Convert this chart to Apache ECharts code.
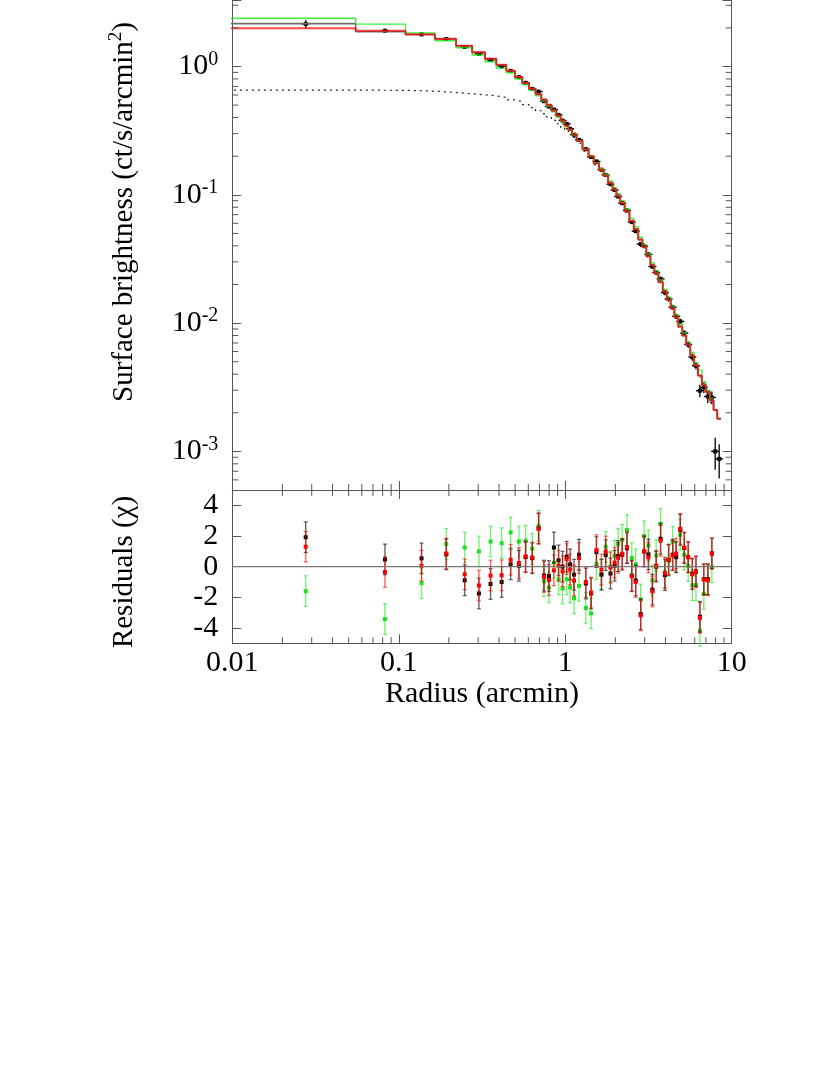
<!DOCTYPE html>
<html>
<head>
<meta charset="utf-8">
<script src="https://cdn.jsdelivr.net/npm/echarts@6/dist/echarts.min.js"></script>
<style>
  html, body { margin: 0; padding: 0; background: #fff; }
  #chart { width: 830px; height: 1075px; }
</style>
</head>
<body>
<div id="chart"></div>
<script>
// bin centres (arcmin)
const radius = [
  0.0276, 0.0826, 0.137, 0.193, 0.249, 0.303, 0.356, 0.415, 0.470, 0.527,
  0.578, 0.634, 0.692, 0.745, 0.798, 0.855, 0.912, 0.964, 1.02, 1.07,
  1.13, 1.21, 1.33, 1.43, 1.54, 1.65, 1.75, 1.87, 1.98, 2.08,
  2.20, 2.35, 2.51, 2.65, 2.84, 2.98, 3.16, 3.34, 3.52, 3.74,
  3.97, 4.18, 4.42, 4.64, 4.91, 5.19, 5.48, 5.80, 6.10, 6.44,
  6.80, 7.19, 7.60, 7.96, 8.41
];
// surface brightness data (ct/s/arcmin^2) and 1-sigma errors
const sbData = [
  2.15, 1.90, 1.78, 1.64, 1.42, 1.256, 1.127, 1.007, 0.926, 0.826,
  0.746, 0.670, 0.638, 0.537, 0.488, 0.462, 0.420, 0.379, 0.357, 0.327,
  0.294, 0.268, 0.227, 0.197, 0.182, 0.157, 0.143, 0.121, 0.109, 0.097,
  0.086, 0.0755, 0.0613, 0.0521, 0.0413, 0.0398, 0.0343, 0.0276, 0.0248, 0.0221,
  0.0173, 0.0154, 0.0133, 0.0113, 0.0103, 0.00835, 0.00681, 0.00543, 0.00465, 0.00297,
  0.00315, 0.00268, 0.00263, 0.00100, 0.000875
];
const sbErr = [
  0.16, 0.07, 0.05, 0.045, 0.04, 0.035, 0.03, 0.028, 0.025, 0.022,
  0.02, 0.018, 0.017, 0.015, 0.014, 0.013, 0.012, 0.011, 0.010, 0.0095,
  0.009, 0.008, 0.007, 0.006, 0.0055, 0.005, 0.0045, 0.004, 0.0036, 0.0032,
  0.0029, 0.0026, 0.0022, 0.0019, 0.0016, 0.0015, 0.0013, 0.0011, 0.0010, 0.0009,
  0.0008, 0.0007, 0.0006, 0.00055, 0.0005, 0.00045, 0.0004, 0.00035, 0.0003, 0.00033,
  0.0003, 0.0003, 0.0003, 0.00028, 0.00026
];
// model histograms
const modelRed = [
  1.99, 1.90, 1.78, 1.64, 1.45, 1.29, 1.15, 1.03, 0.926, 0.83,
  0.745, 0.672, 0.607, 0.552, 0.503, 0.455, 0.414, 0.379, 0.345, 0.322,
  0.296, 0.264, 0.226, 0.200, 0.176, 0.157, 0.141, 0.124, 0.110, 0.0985,
  0.0866, 0.0745, 0.0628, 0.0540, 0.0448, 0.0392, 0.0332, 0.0283, 0.0245, 0.0208,
  0.0176, 0.0152, 0.0130, 0.0111, 0.0094, 0.0080, 0.0068, 0.0056, 0.0047, 0.0039,
  0.0033, 0.0029, 0.0025, 0.0021, 0.0018
];
const modelGrey = [
  2.16, 1.87, 1.78, 1.65, 1.45, 1.29, 1.15, 1.03, 0.926, 0.83,
  0.745, 0.672, 0.607, 0.552, 0.503, 0.455, 0.414, 0.379, 0.345, 0.322,
  0.296, 0.264, 0.226, 0.200, 0.176, 0.157, 0.141, 0.124, 0.110, 0.0985,
  0.0866, 0.0745, 0.0628, 0.0540, 0.0448, 0.0392, 0.0332, 0.0283, 0.0245, 0.0208,
  0.0176, 0.0152, 0.0130, 0.0111, 0.0094, 0.0080, 0.0068, 0.0056, 0.0047, 0.0039,
  0.0033, 0.0029, 0.0025, 0.0021, 0.0018
];
const modelGreen = [
  2.38, 2.14, 1.83, 1.59, 1.40, 1.23, 1.09, 0.97, 0.893, 0.80,
  0.725, 0.652, 0.590, 0.537, 0.490, 0.443, 0.404, 0.371, 0.340, 0.318,
  0.293, 0.263, 0.226, 0.201, 0.178, 0.160, 0.145, 0.128, 0.114, 0.102,
  0.090, 0.0776, 0.0655, 0.0563, 0.0467, 0.0409, 0.0346, 0.0295, 0.0256, 0.0217,
  0.0184, 0.0159, 0.0136, 0.0116, 0.0098, 0.0084, 0.0071, 0.0059, 0.0049, 0.0043,
  0.0035, 0.0030, 0.0026, null, null
];
// extended component (dotted)
const modelComp = [
  0.655, 0.652, 0.643, 0.627, 0.613, 0.602, 0.591, 0.574, 0.550, 0.533,
  0.505, 0.478, 0.452, 0.430, 0.405, 0.380, 0.358, 0.336, 0.318, 0.300,
  0.280, 0.253, 0.219, 0.195, 0.172, 0.154, 0.139, 0.122, 0.109, 0.0975,
  0.086, 0.074, 0.0625, 0.0537, 0.0446, 0.039, 0.033, 0.0282, 0.0244, 0.0207,
  0.0175, 0.0151, 0.0129, 0.0110, 0.0093, 0.0079, 0.0067, 0.0055, 0.0046, 0.0038,
  0.0032, 0.0028, 0.0024, 0.0021, 0.0018
];
// residuals (chi) for the three data sets, first 53 bins
const resBlack = [
  1.92, 0.47, 0.54, 0.80, -0.89, -1.75, -1.13, -1.00, 0.15, 0.06,
  0.62, 0.55, 2.50, -0.58, -0.61, 1.25, 0.41, 0.00, 0.65, 0.15,
  -0.52, 0.78, -1.10, -1.75, 0.95, -0.52, 0.75, -0.45, 0.06, 0.69,
  0.78, 1.20, -0.60, -0.90, -3.10, 0.99, 0.80, -1.50, 0.00, 1.82,
  -0.55, 0.45, 0.78, 0.62, 2.40, 1.22, 0.62, -0.45, -0.32, -3.27,
  -0.82, -0.82, 0.86
];
const resRed = [
  1.30, -0.35, 0.06, 0.86, -0.50, -1.23, -0.58, -0.56, 0.45, 0.23,
  0.67, 0.60, 2.47, -0.67, -0.87, -0.24, 0.06, -0.30, 0.49, -0.18,
  -0.90, 0.56, -1.00, -1.69, 1.08, -0.19, 0.99, -0.06, 0.26, 0.58,
  0.84, 1.27, -0.63, -1.00, -3.18, 0.99, 0.60, -1.62, 0.06, 1.69,
  -0.42, 0.45, 0.73, 0.86, 2.47, 1.25, 0.62, -0.50, -0.32, -3.34,
  -0.84, -0.89, 0.86
];
const resGreen = [
  -1.60, -3.42, -1.08, 1.49, 1.25, 0.99, 1.64, 1.53, 2.23, 1.64,
  1.69, 1.17, 2.66, -0.95, -1.36, 0.26, -0.84, -1.43, -0.82, -1.36,
  -2.06, -1.26, -2.69, -3.05, 0.17, -0.50, 1.30, 0.00, 0.71, 1.47,
  1.75, 2.38, 0.56, 0.15, -2.14, 1.99, 1.38, -0.89, 0.73, 2.79,
  -0.37, 0.39, 1.62, 0.62, 2.08, 0.78, 0.04, -1.21, -1.21, -4.18,
  -1.78, -0.82, -0.04
];
const xRange = [0.01, 10];
const yRange = [5e-4, 3.3];
const resRange = [-5, 5];

const FONT = '"Liberation Serif", "Times New Roman", serif';
const AXIS_COLOR = '#555';

// bin edges from the centres
const edges = [0.001];
for (let i = 1; i < radius.length; i++) edges.push((radius[i - 1] + radius[i]) / 2);
edges.push(2 * radius[radius.length - 1] - edges[edges.length - 1]);

function steps(vals) {
  const pts = [];
  vals.forEach((v, i) => {
    if (v == null) return;
    pts.push([edges[i], v], [edges[i + 1], v]);
  });
  return pts;
}

// minor tick values
const minorX = [];
for (let e = -2; e <= 0; e++) for (let m = 2; m <= 9; m++) minorX.push(m * Math.pow(10, e));
const minorY = [];
for (let e = -4; e <= 0; e++) {
  for (let m = 2; m <= 9; m++) {
    const v = m * Math.pow(10, e);
    if (v > yRange[0] && v < yRange[1]) minorY.push(v);
  }
}

function line(x1, y1, x2, y2, color, w) {
  return { type: 'line', shape: { x1, y1, x2, y2 }, style: { stroke: color, lineWidth: w } };
}

function errorItem(color, barColor, cap, cross) {
  return function (params, api) {
    const c = api.coord([api.value(0), api.value(1)]);
    const lo = api.coord([api.value(0), api.value(2)]);
    const hi = api.coord([api.value(0), api.value(3)]);
    const children = [line(c[0], lo[1], c[0], hi[1], barColor, 1.4)];
    if (cap) {
      children.push(line(c[0] - cap, lo[1], c[0] + cap, lo[1], barColor, 1.2));
      children.push(line(c[0] - cap, hi[1], c[0] + cap, hi[1], barColor, 1.2));
    }
    if (cross) children.push(line(c[0] - cross, c[1], c[0] + cross, c[1], color, 1.4));
    children.push({ type: 'rect', shape: { x: c[0] - 2, y: c[1] - 2, width: 4, height: 4 }, style: { fill: color } });
    return { type: 'group', children };
  };
}

const supRich = {
  b: { fontFamily: FONT, fontSize: 30, color: '#000', lineHeight: 34 },
  s: { fontFamily: FONT, fontSize: 20, color: '#000', verticalAlign: 'top', lineHeight: 20 }
};

const chart = echarts.init(document.getElementById('chart'), null, { renderer: 'canvas' });

const baseAxis = {
  axisLine: { show: true, onZero: false, lineStyle: { color: AXIS_COLOR, width: 1 } },
  axisTick: { show: true, inside: true, length: 9, lineStyle: { color: AXIS_COLOR, width: 1 } },
  splitLine: { show: false },
  minorTick: { show: false }
};

const option = {
  animation: false,
  backgroundColor: '#fff',
  grid: [
    { left: 232.3, width: 499.4, top: 0, height: 490 },
    { left: 232.3, width: 499.4, top: 490, height: 153.3 }
  ],
  xAxis: [
    Object.assign({}, baseAxis, {
      type: 'log', gridIndex: 0, min: xRange[0], max: xRange[1], position: 'bottom',
      axisLabel: { show: false }
    }),
    Object.assign({}, baseAxis, {
      type: 'log', gridIndex: 1, min: xRange[0], max: xRange[1], position: 'bottom',
      axisLabel: {
        show: true, margin: 5, fontFamily: FONT, fontSize: 30, color: '#000',
        formatter: v => String(Number(v.toPrecision(3)))
      },
      name: 'Radius (arcmin)', nameLocation: 'middle', nameGap: 36,
      nameTextStyle: { fontFamily: FONT, fontSize: 30, color: '#000' }
    }),
    Object.assign({}, baseAxis, {
      type: 'log', gridIndex: 1, min: xRange[0], max: xRange[1], position: 'top',
      axisLabel: { show: false }
    })
  ],
  yAxis: [
    Object.assign({}, baseAxis, {
      type: 'log', gridIndex: 0, min: yRange[0], max: yRange[1], position: 'left',
      axisLabel: {
        show: true, margin: 14, rich: supRich,
        formatter: v => {
          const e = Math.log10(v);
          if (Math.abs(e - Math.round(e)) > 1e-6) return '';
          return '{b|10}{s|' + Math.round(e) + '}';
        }
      }
    }),
    Object.assign({}, baseAxis, {
      type: 'log', gridIndex: 0, min: yRange[0], max: yRange[1], position: 'right',
      axisLabel: { show: false }
    }),
    Object.assign({}, baseAxis, {
      type: 'value', gridIndex: 1, min: resRange[0], max: resRange[1], position: 'left',
      axisLabel: {
        show: true, margin: 14, fontFamily: FONT, fontSize: 30, color: '#000',
        formatter: v => (Math.abs(v) < 5 && v % 2 === 0 ? String(v) : '')
      }
    }),
    Object.assign({}, baseAxis, {
      type: 'value', gridIndex: 1, min: resRange[0], max: resRange[1], position: 'right',
      axisLabel: { show: false }
    })
  ],
  graphic: [
    {
      type: 'text', x: 124, y: 212, rotation: Math.PI / 2,
      style: {
        text: '{b|Surface brightness (ct/s/arcmin}{s|2}{b|)}',
        align: 'center', verticalAlign: 'middle',
        rich: {
          b: { fontFamily: FONT, fontSize: 29, fill: '#000', lineHeight: 34 },
          s: { fontFamily: FONT, fontSize: 19, fill: '#000', verticalAlign: 'top', lineHeight: 19 }
        }
      }
    },
    {
      type: 'text', x: 124, y: 572, rotation: Math.PI / 2,
      style: {
        text: 'Residuals (χ)', align: 'center', verticalAlign: 'middle',
        fontFamily: FONT, fontSize: 29, fill: '#000'
      }
    }
  ],
  series: [
    {
      type: 'line', xAxisIndex: 0, yAxisIndex: 0, showSymbol: false, silent: true,
      data: steps(modelComp),
      lineStyle: { color: '#222', width: 1.2, type: [2, 4] }
    },
    {
      type: 'line', xAxisIndex: 0, yAxisIndex: 0, showSymbol: false, silent: true,
      data: steps(modelGrey),
      lineStyle: { color: '#6e6e6e', width: 1.6 }
    },
    {
      type: 'line', xAxisIndex: 0, yAxisIndex: 0, showSymbol: false, silent: true,
      data: steps(modelGreen),
      lineStyle: { color: 'rgba(20,235,20,0.8)', width: 1.4 }
    },
    {
      type: 'line', xAxisIndex: 0, yAxisIndex: 0, showSymbol: false, silent: true,
      data: steps(modelRed),
      lineStyle: { color: 'rgba(255,0,0,0.7)', width: 2 }
    },
    {
      type: 'custom', xAxisIndex: 0, yAxisIndex: 0, silent: true,
      renderItem: errorItem('#000', '#111', 0, 4),
      data: radius.map((r, i) => [r, sbData[i], sbData[i] - sbErr[i], sbData[i] + sbErr[i]])
    },
    // residual panel
    {
      type: 'line', xAxisIndex: 1, yAxisIndex: 2, showSymbol: false, silent: true,
      data: [[xRange[0], 0], [xRange[1], 0]],
      lineStyle: { color: '#777', width: 1.2 }
    },
    {
      type: 'custom', xAxisIndex: 1, yAxisIndex: 2, silent: true,
      renderItem: errorItem('#1ee01e', 'rgba(30,230,30,0.6)', 2, 0),
      data: resGreen.map((v, i) => [radius[i], v, v - 1, v + 1])
    },
    {
      type: 'custom', xAxisIndex: 1, yAxisIndex: 2, silent: true,
      renderItem: errorItem('#000', 'rgba(0,0,0,0.6)', 2, 0),
      data: resBlack.map((v, i) => [radius[i], v, v - 1, v + 1])
    },
    {
      type: 'custom', xAxisIndex: 1, yAxisIndex: 2, silent: true,
      renderItem: errorItem('#f00', 'rgba(255,0,0,0.6)', 2, 0),
      data: resRed.map((v, i) => [radius[i], v, v - 1, v + 1])
    },
    // minor ticks
    {
      type: 'custom', xAxisIndex: 0, yAxisIndex: 0, silent: true, z: 5,
      renderItem: (params, api) => {
        const p = api.coord([xRange[0], api.value(1)]);
        const q = api.coord([xRange[1], api.value(1)]);
        return { type: 'group', children: [
          line(p[0], p[1], p[0] + 6, p[1], AXIS_COLOR, 1),
          line(q[0] - 6, q[1], q[0], q[1], AXIS_COLOR, 1)
        ] };
      },
      data: minorY.map(v => [xRange[0], v])
    },
    {
      type: 'custom', xAxisIndex: 0, yAxisIndex: 0, silent: true, z: 5,
      renderItem: (params, api) => {
        const p = api.coord([api.value(0), yRange[0]]);
        return line(p[0], p[1] - 6, p[0], p[1], AXIS_COLOR, 1);
      },
      data: minorX.map(v => [v, yRange[0]])
    },
    {
      type: 'custom', xAxisIndex: 1, yAxisIndex: 2, silent: true, z: 5,
      renderItem: (params, api) => {
        const t = api.coord([api.value(0), resRange[1]]);
        const b = api.coord([api.value(0), resRange[0]]);
        return { type: 'group', children: [
          line(t[0], t[1], t[0], t[1] + 6, AXIS_COLOR, 1),
          line(b[0], b[1] - 6, b[0], b[1], AXIS_COLOR, 1)
        ] };
      },
      data: minorX.map(v => [v, 0])
    }
  ]
};

chart.setOption(option);
</script>
</body>
</html>
